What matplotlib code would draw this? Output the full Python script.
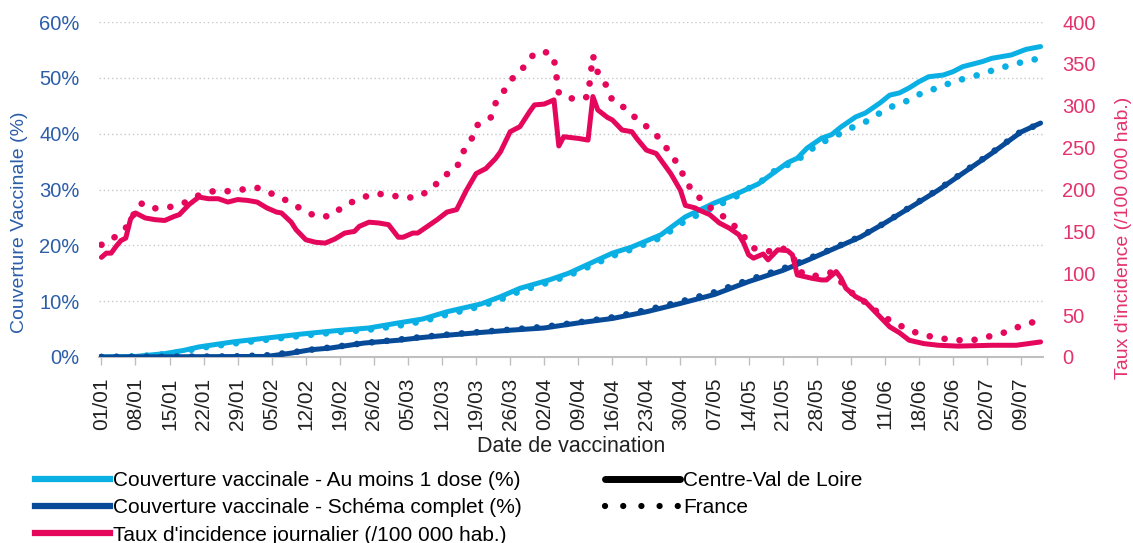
import matplotlib
matplotlib.use('Agg')
import matplotlib.pyplot as plt
from matplotlib.lines import Line2D
from matplotlib.ticker import FuncFormatter
from datetime import date

plt.rcParams['font.family'] = ['Liberation Sans', 'DejaVu Sans']

ANNEE = 2021

tick_labels = ['01/01', '08/01', '15/01', '22/01', '29/01', '05/02', '12/02', '19/02',
               '26/02', '05/03', '12/03', '19/03', '26/03', '02/04', '09/04', '16/04',
               '23/04', '30/04', '07/05', '14/05', '21/05', '28/05', '04/06', '11/06',
               '18/06', '25/06', '02/07', '09/07']

# Couverture vaccinale - Au moins 1 dose (%) - Centre-Val de Loire
dose1_cvl_dates = ['01/01', '08/01', '14/01', '18/01', '21/01', '28/01', '04/02', '11/02',
                   '18/02', '25/02', '03/03', '08/03', '13/03', '20/03', '24/03', '28/03',
                   '03/04', '07/04', '12/04', '16/04', '20/04', '26/04', '01/05', '07/05',
                   '11/05', '16/05', '22/05', '24/05', '26/05', '29/05', '31/05', '02/06',
                   '05/06', '07/06', '10/06', '12/06', '14/06', '16/06', '18/06', '20/06',
                   '23/06', '25/06', '27/06', '01/07', '03/07', '07/07', '10/07', '13/07']
dose1_cvl = [0.0, 0.1, 0.6, 1.2, 1.8, 2.7, 3.4, 4.1, 4.7, 5.2, 6.1, 6.8, 8.1, 9.5, 10.8, 12.3,
             13.8, 15.0, 17.0, 18.6, 19.7, 21.9, 25.1, 27.6, 29.0, 31.0, 34.8, 35.6, 37.4, 39.2,
             39.8, 41.2, 43.0, 43.7, 45.5, 46.9, 47.3, 48.2, 49.3, 50.2, 50.5, 51.1, 52.0, 52.9,
             53.5, 54.1, 55.1, 55.6]

# Couverture vaccinale - Au moins 1 dose (%) - France
dose1_fr_dates = ['01/01', '08/01', '14/01', '18/01', '21/01', '28/01', '04/02', '11/02',
                  '18/02', '25/02', '03/03', '08/03', '13/03', '20/03', '24/03', '28/03',
                  '03/04', '07/04', '12/04', '16/04', '20/04', '26/04', '01/05', '07/05',
                  '11/05', '14/05', '17/05', '20/05', '23/05', '26/05', '28/05', '31/05',
                  '04/06', '07/06', '10/06', '13/06', '16/06', '19/06', '22/06', '25/06',
                  '28/06', '01/07', '04/07', '07/07', '10/07', '13/07']
dose1_fr = [0.0, 0.1, 0.5, 1.0, 1.6, 2.4, 3.1, 3.8, 4.4, 4.9, 5.6, 6.4, 7.6, 9.1, 10.3, 11.8,
            13.4, 14.6, 16.5, 18.1, 19.3, 21.4, 24.4, 26.9, 28.5, 30.2, 31.7, 33.8, 34.7, 36.5,
            38.0, 39.2, 41.0, 42.1, 43.7, 45.1, 46.0, 47.5, 48.2, 49.3, 50.0, 50.7, 51.6, 52.3,
            53.0, 53.5]

# Couverture vaccinale - Schéma complet (%) - Centre-Val de Loire
complet_cvl_dates = ['01/01', '04/02', '09/02', '13/02', '17/02', '24/02', '03/03', '08/03',
                     '13/03', '20/03', '26/03', '02/04', '09/04', '16/04', '23/04', '30/04',
                     '07/05', '14/05', '21/05', '26/05', '31/05', '06/06', '11/06', '17/06',
                     '22/06', '28/06', '03/07', '09/07', '13/07']
complet_cvl = [0.0, 0.1, 0.7, 1.3, 1.6, 2.5, 3.0, 3.5, 3.9, 4.4, 4.8, 5.2, 6.1, 6.9, 8.1, 9.6,
               11.2, 13.5, 15.5, 17.3, 19.2, 21.5, 24.0, 27.2, 29.9, 33.5, 36.5, 40.3, 41.9]

# Couverture vaccinale - Schéma complet (%) - France
complet_fr_dates = ['01/01', '28/01', '04/02', '09/02', '13/02', '17/02', '24/02', '03/03',
                    '08/03', '13/03', '20/03', '26/03', '02/04', '09/04', '16/04', '23/04',
                    '30/04', '07/05', '14/05', '21/05', '26/05', '31/05', '06/06', '11/06',
                    '17/06', '22/06', '28/06', '03/07', '09/07', '13/07']
complet_fr = [0.0, 0.1, 0.3, 0.8, 1.3, 1.7, 2.5, 3.1, 3.6, 4.0, 4.5, 4.9, 5.4, 6.2, 7.1, 8.4,
              9.9, 11.6, 13.8, 15.8, 17.5, 19.3, 21.6, 24.0, 27.3, 30.0, 33.6, 36.6, 40.4, 41.8]

# Taux d'incidence journalier (/100 000 hab.) - Centre-Val de Loire
incid_cvl_dates = ['01/01', '02/01', '03/01', '04/01', '05/01', '06/01', '07/01', '08/01',
                   '10/01', '12/01', '14/01', '16/01', '17/01', '19/01', '21/01', '23/01',
                   '25/01', '27/01', '29/01', '31/01', '02/02', '04/02', '06/02', '07/02',
                   '09/02', '10/02', '12/02', '14/02', '16/02', '18/02', '20/02', '22/02',
                   '23/02', '25/02', '27/02', '01/03', '03/03', '04/03', '06/03', '07/03',
                   '09/03', '11/03', '13/03', '15/03', '17/03', '19/03', '21/03', '23/03',
                   '24/03', '26/03', '28/03', '30/03', '31/03', '02/04', '04/04', '05/04',
                   '06/04', '09/04', '11/04', '12/04', '13/04', '15/04', '16/04', '18/04',
                   '20/04', '21/04', '23/04', '25/04', '28/04', '30/04', '01/05', '03/05',
                   '04/05', '06/05', '08/05', '10/05', '12/05', '13/05', '14/05', '15/05',
                   '17/05', '18/05', '20/05', '22/05', '23/05', '24/05', '27/05', '29/05',
                   '30/05', '01/06', '02/06', '03/06', '05/06', '07/06', '09/06', '11/06',
                   '12/06', '14/06', '16/06', '19/06', '22/06', '26/06', '03/07', '08/07',
                   '13/07']
incid_cvl = [119, 124, 124, 132, 139, 142, 165, 172,
             166, 164, 163, 168, 170, 182, 191, 189,
             189, 185, 188, 187, 185, 178, 173, 172,
             161, 152, 140, 137, 136, 141, 148, 150,
             156, 161, 160, 158, 143, 143, 148, 148,
             156, 164, 173, 176, 199, 219, 225, 237,
             245, 269, 275, 293, 301, 302, 307, 252,
             263, 261, 259, 311, 295, 286, 283, 271,
             269, 261, 247, 243, 219, 199, 181, 178,
             175, 170, 160, 154, 146, 136, 122, 118,
             123, 116, 128, 127, 122, 98, 94, 92,
             92, 102, 94, 82, 72, 66, 54, 42,
             36, 29, 20, 16, 14, 13, 14, 14,
             18]

# Taux d'incidence journalier (/100 000 hab.) - France
incid_fr_dates = ['01/01', '04/01', '06/01', '09/01', '11/01', '15/01', '18/01', '21/01',
                  '24/01', '27/01', '30/01', '02/02', '05/02', '08/02', '11/02', '14/02',
                  '17/02', '20/02', '23/02', '26/02', '01/03', '04/03', '07/03', '10/03',
                  '12/03', '15/03', '16/03', '18/03', '19/03', '22/03', '23/03', '25/03',
                  '27/03', '29/03', '31/03', '03/04', '04/04', '05/04', '06/04', '09/04',
                  '11/04', '12/04', '13/04', '15/04', '16/04', '19/04', '21/04', '24/04',
                  '26/04', '28/04', '30/04', '01/05', '03/05', '05/05', '07/05', '10/05',
                  '12/05', '15/05', '18/05', '21/05', '23/05', '25/05', '27/05', '31/05',
                  '03/06', '05/06', '08/06', '10/06', '13/06', '16/06', '19/06', '22/06',
                  '25/06', '29/06', '02/07', '05/07', '08/07', '11/07', '13/07']
incid_fr = [134, 144, 154, 184, 177, 179, 184, 193,
            198, 198, 200, 202, 195, 187, 177, 168,
            168, 181, 189, 195, 194, 190, 191, 201,
            215, 225, 242, 259, 276, 286, 303, 320,
            337, 347, 363, 364, 356, 315, 311, 307,
            311, 360, 340, 322, 306, 296, 284, 271,
            259, 242, 226, 209, 196, 183, 175, 163,
            151, 130, 126, 130, 120, 100, 96, 101,
            84, 72, 62, 50, 41, 32, 26, 23,
            20, 20, 24, 28, 35, 41, 43]

C_LIGHT = '#0AB0E4'
C_DARK = '#074A97'
C_PINK = '#E4075B'
C_LEFT = '#2C5DA8'
C_RIGHT = '#E4336C'


def jours(ds):
    d0 = date(ANNEE, 1, 1)
    return [(date(ANNEE, int(s[3:5]), int(s[0:2])) - d0).days for s in ds]


W, H = 1133, 543
fig = plt.figure(figsize=(W / 100, H / 100), dpi=100)
ax = fig.add_axes([99 / W, 1 - 357 / H, (1043 - 99) / W, (357 - 22) / H])
ax2 = ax.twinx()

LW = 3.6
LWD = 4.8
DOT = (0, (0.01, 2.25))

ax.plot(jours(dose1_cvl_dates), dose1_cvl, color=C_LIGHT, lw=LW, solid_capstyle='round', zorder=3)
ax.plot(jours(dose1_fr_dates), dose1_fr, color=C_LIGHT, lw=LWD, linestyle=DOT,
        dash_capstyle='round', zorder=3)
ax.plot(jours(complet_cvl_dates), complet_cvl, color=C_DARK, lw=LW, solid_capstyle='round', zorder=3)
ax.plot(jours(complet_fr_dates), complet_fr, color=C_DARK, lw=LWD, linestyle=DOT,
        dash_capstyle='round', zorder=3)
ax2.plot(jours(incid_cvl_dates), incid_cvl, color=C_PINK, lw=LW, solid_capstyle='round', zorder=3)
ax2.plot(jours(incid_fr_dates), incid_fr, color=C_PINK, lw=LWD, linestyle=DOT,
         dash_capstyle='round', zorder=3)

ax.set_xlim(-0.5, 193.5)
ax.set_ylim(0, 60)
ax2.set_ylim(0, 400)

ax.set_yticks(range(0, 61, 10))
ax.yaxis.set_major_formatter(FuncFormatter(lambda v, p: f'{int(v)}%'))
ax2.set_yticks(range(0, 401, 50))

ax.set_xticks(jours(tick_labels))
ax.set_xticklabels(tick_labels, rotation=90, fontsize=15, color='#222222')

ax.tick_params(axis='x', length=6, width=1, color='#BFBFBF', pad=9)
ax.tick_params(axis='y', length=0, labelsize=14.5, labelcolor=C_LEFT, pad=14)
ax2.tick_params(axis='y', length=0, labelsize=14.5, labelcolor=C_RIGHT, pad=14)

for a in (ax, ax2):
    for s in ('top', 'left', 'right', 'bottom'):
        a.spines[s].set_visible(False)
ax.spines['bottom'].set_visible(True)
ax.spines['bottom'].set_color('#BFBFBF')
ax.spines['bottom'].set_linewidth(1.5)

ax.yaxis.grid(True, linestyle=(0, (1, 2)), color='#C8C8C8', lw=1)
ax.set_axisbelow(True)

ax.set_xlabel('Date de vaccination', fontsize=15.5, color='#222222', labelpad=4)
fig.text(20 / W, 1 - 222 / H, 'Couverture Vaccinale (%)', rotation=90, fontsize=14,
         color=C_LEFT, ha='center', va='center')
fig.text(1124 / W, 1 - 238 / H, "Taux d'incidence (/100 000 hab.)", rotation=90, fontsize=14,
         color=C_RIGHT, ha='center', va='center')

h1 = [Line2D([], [], color=C_LIGHT, lw=4.5),
      Line2D([], [], color=C_DARK, lw=4.5),
      Line2D([], [], color=C_PINK, lw=4.5)]
l1 = ['Couverture vaccinale - Au moins 1 dose (%)',
      'Couverture vaccinale - Schéma complet (%)',
      "Taux d'incidence journalier (/100 000 hab.)"]
leg1 = fig.legend(h1, l1, loc='upper left', bbox_to_anchor=(35 / W, 1 - 471 / H),
                  frameon=False, fontsize=15, handlelength=3.6, handletextpad=0.15,
                  labelspacing=0.4, borderaxespad=0, borderpad=0)
h2 = [Line2D([], [], color='black', lw=5, solid_capstyle='round'),
      Line2D([], [], color='black', lw=4.5, linestyle=(0, (0.01, 2.9)), dash_capstyle='round')]
l2 = ['Centre-Val de Loire', 'France']
leg2 = fig.legend(h2, l2, loc='upper left', bbox_to_anchor=(605 / W, 1 - 471 / H),
                  frameon=False, fontsize=15, handlelength=3.6, handletextpad=0.15,
                  labelspacing=0.4, borderaxespad=0, borderpad=0)

fig.savefig('out.png', dpi=100)
